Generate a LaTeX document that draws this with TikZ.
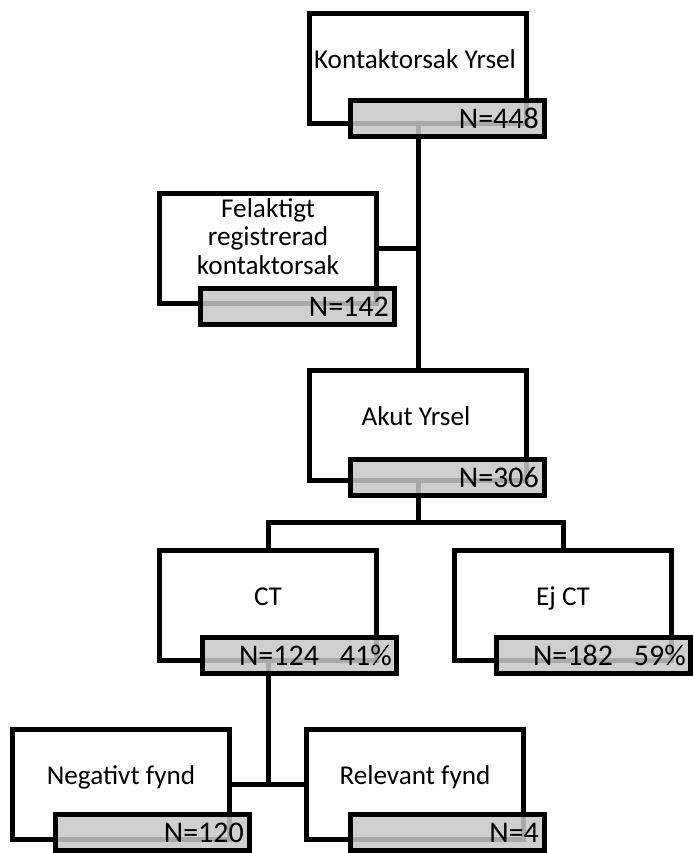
\documentclass[tikz,border=0pt]{standalone}
\usepackage{fontspec}
\setmainfont{Carlito}
\definecolor{barfill}{RGB}{199,199,199}
\begin{document}
\begin{tikzpicture}[x=1pt,y=-1pt,
  flowbox/.style={draw=black, line width=5pt, fill=white, minimum width=217pt, minimum height=110pt, inner sep=0pt, anchor=north west},
  countbar/.style={draw=black, line width=5pt, fill=barfill, fill opacity=0.85, draw opacity=1, minimum width=194pt, minimum height=36pt, inner sep=0pt, anchor=north west},
  boxtext/.style={font=\fontsize{27.2}{28.5}\selectfont, anchor=base, inner sep=0pt, align=center},
  bartext/.style={font=\fontsize{30}{32}\selectfont, anchor=east, inner sep=0pt},
  conn/.style={line width=5pt, line join=miter}]
\useasboundingbox (0,0) rectangle (693,853);
% boxes
\node[flowbox] (b1) at (307,11) {};
\node[flowbox] (b2) at (157,191) {};
\node[flowbox] (b3) at (307,368) {};
\node[flowbox] (ct) at (157,548) {};
\node[flowbox] (ej) at (452,548) {};
\node[flowbox] (neg) at (10,727) {};
\node[flowbox] (rel) at (304,727) {};
% box texts
\node[boxtext] (t1) at ([xshift=-3pt]b1.center) {Kontaktorsak Yrsel};
\node[boxtext] (t2) at ([yshift=-25.8pt]b2.center) {Felaktigt\\registrerad\\kontaktorsak};
\node[boxtext] (t3) at ([xshift=-2pt]b3.center) {Akut Yrsel};
\node[boxtext] (t4) at (ct.center) {CT};
\node[boxtext] (t5) at (ej.center) {Ej CT};
\node[boxtext] (t6) at (neg.center) {Negativt fynd};
\node[boxtext] (t7) at (rel.center) {Relevant fynd};
% connectors
\coordinate (jy) at (0,522);
\coordinate (j1) at (b3.south |- jy);
\draw[conn] (b1.south) -- (b3.north);
\draw[conn] (b2.east) -- (b2.east -| b1.south);
\draw[conn] (b3.south) -- (j1);
\draw[conn] (ct.north) |- (j1) -| (ej.north);
\draw[conn] (ct.south) -- (ct.south |- neg.east);
\draw[conn] (neg.east) -- (rel.west);
% count bars
\node[countbar] (n1) at (348,98) {};
\node[countbar] (n2) at (198,286) {};
\node[countbar] (n3) at (348,457) {};
\node[countbar] (n4) at (200,635) {};
\node[countbar] (n5) at (494,635) {};
\node[countbar] (n6) at (53,812) {};
\node[countbar] (n7) at (348,812) {};
\node[bartext] (c1) at ([xshift=-8pt]n1.east) {N=448};
\node[bartext] (c2) at ([xshift=-8pt]n2.east) {N=142};
\node[bartext] (c3) at ([xshift=-8pt]n3.east) {N=306};
\node[bartext] (c4) at ([xshift=-7pt]n4.east) {N=124\hspace{21pt}41\%};
\node[bartext] (c5) at ([xshift=-7pt]n5.east) {N=182\hspace{21pt}59\%};
\node[bartext] (c6) at ([xshift=-8pt]n6.east) {N=120};
\node[bartext] (c7) at ([xshift=-8pt]n7.east) {N=4};
\end{tikzpicture}
\end{document}
